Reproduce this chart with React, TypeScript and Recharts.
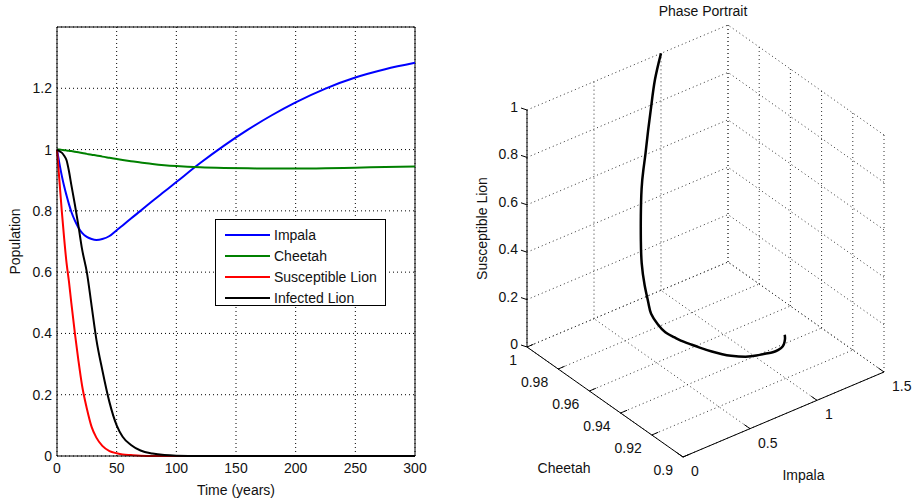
import React from 'react';
import { LineChart, Line, XAxis, YAxis, CartesianGrid, ReferenceLine, Legend, ComposedChart, Scatter } from 'recharts';

// samples (years) and populations
const time = [0, 2, 4, 6, 8, 10, 12, 15, 18, 21, 25, 29, 33, 38, 44, 50, 55, 62, 70, 80, 90, 100, 120, 140, 160, 180, 200, 225, 250, 275, 300];
const impala = [1.0, 0.955, 0.915, 0.88, 0.85, 0.822, 0.797, 0.768, 0.745, 0.728, 0.715, 0.708, 0.705, 0.708, 0.718, 0.737, 0.752, 0.775, 0.8, 0.832, 0.863, 0.894, 0.956, 1.013, 1.065, 1.112, 1.154, 1.199, 1.235, 1.262, 1.283];
const cheetah = [1.0, 1.0, 0.999, 0.998, 0.997, 0.996, 0.995, 0.993, 0.991, 0.989, 0.986, 0.983, 0.981, 0.977, 0.973, 0.969, 0.966, 0.962, 0.958, 0.953, 0.949, 0.946, 0.942, 0.94, 0.939, 0.938, 0.938, 0.939, 0.941, 0.943, 0.945];
const susLion = [1.0, 0.9, 0.8, 0.71, 0.63, 0.57, 0.5, 0.4, 0.31, 0.23, 0.155, 0.095, 0.06, 0.033, 0.016, 0.009, 0.005, 0.003, 0.001, 0, 0, 0, 0, 0, 0, 0, 0, 0, 0, 0, 0];
const infLion = [1.0, 0.995, 0.99, 0.98, 0.965, 0.93, 0.885, 0.82, 0.75, 0.675, 0.6, 0.49, 0.38, 0.28, 0.175, 0.1, 0.063, 0.036, 0.018, 0.008, 0.003, 0.001, 0, 0, 0, 0, 0, 0, 0, 0, 0];

const seriesNames = ['Impala', 'Cheetah', 'Susceptible Lion', 'Infected Lion'];
const seriesKeys = ['impala', 'cheetah', 'susLion', 'infLion'];
const seriesColors = ['#0000ff', '#008000', '#ff0000', '#000000'];

const timeTicks = [0, 50, 100, 150, 200, 250, 300];
const popTicks = [0, 0.2, 0.4, 0.6, 0.8, 1, 1.2];

const impalaTicks = [0, 0.5, 1, 1.5];
const cheetahTicks = [0.9, 0.92, 0.94, 0.96, 0.98, 1];
const lionTicks = [0, 0.2, 0.4, 0.6, 0.8, 1];

const popData = time.map((t, i) => ({ t, impala: impala[i], cheetah: cheetah[i], susLion: susLion[i], infLion: infLion[i] }));

const FONT = '"Liberation Sans", Arial, sans-serif';
const TXT = '#111';

// 3d box, matlab default view. offsets (px) spanned by each axis' full range
const W3 = 454, H3 = 499;
const origin3 = { x: 223, y: 457 };
const axU = { x: 201, y: -85 };   // impala
const axV = { x: -156, y: -110 }; // cheetah
const axW = { x: 0, y: -237 };    // susceptible lion

const iMin = impalaTicks[0], iMax = impalaTicks[impalaTicks.length - 1];
const cMin = cheetahTicks[0], cMax = cheetahTicks[cheetahTicks.length - 1];
const sMin = lionTicks[0], sMax = lionTicks[lionTicks.length - 1];

function project(a: number, c: number, s: number) {
  const u = (a - iMin) / (iMax - iMin);
  const v = (c - cMin) / (cMax - cMin);
  const w = (s - sMin) / (sMax - sMin);
  return {
    px: origin3.x + u * axU.x + v * axV.x + w * axW.x,
    py: origin3.y + u * axU.y + v * axV.y + w * axW.y,
  };
}

const trajectory = time.map((t, i) => project(impala[i], cheetah[i], susLion[i]));

type P = { px: number; py: number };
const gridSegs: [P, P][] = [];
impalaTicks.forEach((a) => {
  gridSegs.push([project(a, cMin, sMin), project(a, cMax, sMin)]);
  gridSegs.push([project(a, cMax, sMin), project(a, cMax, sMax)]);
});
cheetahTicks.forEach((c) => {
  gridSegs.push([project(iMin, c, sMin), project(iMax, c, sMin)]);
  gridSegs.push([project(iMax, c, sMin), project(iMax, c, sMax)]);
});
lionTicks.forEach((s) => {
  gridSegs.push([project(iMin, cMax, s), project(iMax, cMax, s)]);
  gridSegs.push([project(iMax, cMin, s), project(iMax, cMax, s)]);
});

const axisSegs: [P, P][] = [
  [project(iMin, cMin, sMin), project(iMin, cMax, sMin)],
  [project(iMin, cMin, sMin), project(iMax, cMin, sMin)],
  [project(iMin, cMax, sMin), project(iMin, cMax, sMax)],
];

const unit = (d: { x: number; y: number }, len: number) => {
  const n = Math.hypot(d.x, d.y);
  return { x: (d.x / n) * len, y: (d.y / n) * len };
};
const shift = (p: P, d: { x: number; y: number }): P => ({ px: p.px + d.x, py: p.py + d.y });

const tickSegs: [P, P][] = [
  ...lionTicks.map((s) => { const p = project(iMin, cMax, s); return [p, shift(p, { x: -6, y: -2 })] as [P, P]; }),
  ...cheetahTicks.map((c) => { const p = project(iMin, c, sMin); return [p, shift(p, unit(axU, 7))] as [P, P]; }),
  ...impalaTicks.map((a) => { const p = project(a, cMin, sMin); return [p, shift(p, unit(axV, 7))] as [P, P]; }),
];

const labels3d = [
  ...lionTicks.map((s) => ({ ...project(iMin, cMax, s), text: String(s), dx: -9, dy: -3, anchor: 'end', rot: 0 })),
  ...cheetahTicks.map((c) => ({ ...project(iMin, c, sMin), text: String(c), dx: -10, dy: 13, anchor: 'end', rot: 0 })),
  ...impalaTicks.map((a) => ({ ...project(a, cMin, sMin), text: String(a), dx: 8, dy: 14, anchor: 'start', rot: 0 })),
  { ...project(iMin, (cMin + cMax) / 2, sMin), text: 'Cheetah', dx: -41, dy: 66, anchor: 'middle', rot: 0 },
  { ...project((iMin + iMax) / 2, cMin, sMin), text: 'Impala', dx: 20, dy: 60, anchor: 'middle', rot: 0 },
  { ...project(iMin, cMax, (sMin + sMax) / 2), text: 'Susceptible Lion', dx: -45, dy: 0, anchor: 'middle', rot: -90 },
];

const TextShape = (props: any) => {
  const { cx, cy, payload } = props;
  const x = cx + payload.dx;
  const y = cy + payload.dy;
  return (
    <text
      x={x}
      y={y}
      textAnchor={payload.anchor}
      dominantBaseline="central"
      fontSize={14}
      fill={TXT}
      transform={payload.rot ? `rotate(${payload.rot} ${x} ${y})` : undefined}
    >
      {payload.text}
    </text>
  );
};

const LegendBox = () => (
  <div style={{ border: '1px solid #000', background: '#fff', width: 171, height: 87, paddingTop: 4, boxSizing: 'border-box', fontFamily: FONT }}>
    {seriesNames.map((name, i) => (
      <div key={name} style={{ display: 'flex', alignItems: 'center', height: 21 }}>
        <div style={{ width: 45, height: 2, marginLeft: 9, background: seriesColors[i] }} />
        <span style={{ marginLeft: 4, fontSize: 14, color: TXT, whiteSpace: 'nowrap' }}>{name}</span>
      </div>
    ))}
  </div>
);

export default function App() {
  return (
    <div style={{ position: 'absolute', left: 0, top: 0, width: 914, height: 499, background: '#fff', fontFamily: FONT }}>
      <div style={{ position: 'absolute', left: 0, top: 0 }}>
        <LineChart width={430} height={499} data={popData} margin={{ top: 27, right: 15, bottom: 3, left: 7 }}>
          <CartesianGrid stroke="#000" strokeDasharray="1 3" />
          <XAxis
            dataKey="t"
            type="number"
            domain={[0, 300]}
            ticks={timeTicks}
            interval={0}
            height={40}
            tickLine={false}
            tickSize={5}
            tickMargin={2}
            axisLine={{ stroke: '#000' }}
            tick={{ fill: TXT, fontSize: 14 }}
            label={{ value: 'Time (years)', position: 'insideBottom', offset: 1, fill: TXT, fontSize: 14 }}
          />
          <YAxis
            type="number"
            domain={[0, 1.4]}
            ticks={popTicks}
            interval={0}
            width={50}
            tickLine={false}
            tickSize={4}
            tickMargin={1}
            axisLine={{ stroke: '#000' }}
            tick={{ fill: TXT, fontSize: 14 }}
            label={{ value: 'Population', angle: -90, position: 'insideLeft', offset: 8, fill: TXT, fontSize: 14, style: { textAnchor: 'middle' } }}
          />
          <ReferenceLine y={1.4} stroke="#000" />
          <ReferenceLine x={300} stroke="#000" />
          {seriesKeys.map((k, i) => (
            <Line key={k} dataKey={k} name={seriesNames[i]} type="monotone" stroke={seriesColors[i]} strokeWidth={2} dot={false} isAnimationActive={false} />
          ))}
          <Legend layout="vertical" align="center" verticalAlign="middle" wrapperStyle={{ left: 215, top: 219, width: 173, height: 89 }} content={() => <LegendBox />} />
        </LineChart>
      </div>

      <div style={{ position: 'absolute', left: 603, top: 2, width: 200, textAlign: 'center', fontSize: 14, lineHeight: '18px', color: TXT }}>
        Phase Portrait
      </div>

      <div style={{ position: 'absolute', left: 460, top: 0 }}>
        <ComposedChart width={W3} height={H3} margin={{ top: 0, right: 0, bottom: 0, left: 0 }}>
          <XAxis dataKey="px" type="number" domain={[0, W3]} hide />
          <YAxis dataKey="py" type="number" domain={[0, H3]} reversed hide />
          {gridSegs.map(([a, b], i) => (
            <ReferenceLine key={'g' + i} segment={[{ x: a.px, y: a.py }, { x: b.px, y: b.py }]} stroke="#333" strokeDasharray="1 3" ifOverflow="visible" />
          ))}
          {axisSegs.map(([a, b], i) => (
            <ReferenceLine key={'a' + i} segment={[{ x: a.px, y: a.py }, { x: b.px, y: b.py }]} stroke="#000" ifOverflow="visible" />
          ))}
          {tickSegs.map(([a, b], i) => (
            <ReferenceLine key={'t' + i} segment={[{ x: a.px, y: a.py }, { x: b.px, y: b.py }]} stroke="#000" ifOverflow="visible" />
          ))}
          <Line data={trajectory} dataKey="py" type="natural" stroke="#000" strokeWidth={2.5} dot={false} isAnimationActive={false} />
          <Scatter data={labels3d} dataKey="py" shape={TextShape} isAnimationActive={false} />
        </ComposedChart>
      </div>
    </div>
  );
}
